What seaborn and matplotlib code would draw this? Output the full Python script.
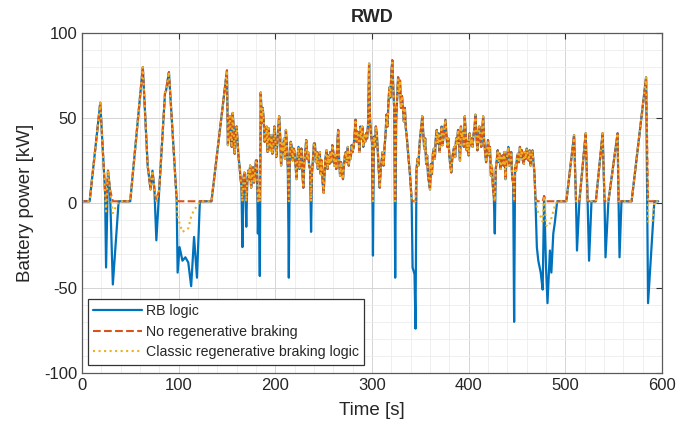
import numpy as np
import pandas as pd
import matplotlib
matplotlib.use("Agg")
import matplotlib.pyplot as plt
from matplotlib.ticker import MultipleLocator
import seaborn as sns

# power without regenerative braking (kW)
# first part of the cycle: knots of the ramps
start_time_s = [0, 8, 19, 24, 25, 27, 29, 32, 38, 50,
                63, 68, 71, 73, 75, 77, 80, 86, 87, 90,
                98, 99, 101, 104, 107, 110, 113, 116, 119, 122,
                134, 150]
start_kw = [1, 1, 59, 6, 1, 19, 8, 1, 1, 1,
            80, 22, 8, 19, 8, 1, 8, 65, 66, 77,
            2, 1, 1, 1, 1, 1, 1, 1, 1, 1,
            1, 78]

# middle part, one value per second from t=151 to t=468
cruise_time_s = list(range(151, 469))
cruise_kw = [
    34, 46, 51, 40, 33, 53, 44, 29, 38, 45,
    36, 27, 22, 15, 10, 1, 14, 18, 8, 1,
    12, 19, 14, 22, 9, 16, 21, 12, 17, 25,
    25, 1, 8, 1, 65, 47, 56, 49, 36, 38,
    45, 30, 44, 36, 31, 40, 29, 33, 45, 38,
    27, 34, 44, 51, 40, 22, 35, 30, 38, 26,
    43, 34, 20, 1, 28, 36, 33, 25, 32, 30,
    22, 14, 27, 33, 20, 25, 32, 18, 9, 24,
    30, 37, 26, 30, 22, 20, 1, 18, 26, 35,
    35, 24, 30, 20, 27, 30, 17, 25, 12, 6,
    18, 27, 31, 20, 28, 23, 30, 24, 34, 30,
    22, 28, 20, 33, 43, 25, 16, 24, 20, 14,
    22, 28, 30, 24, 33, 22, 28, 26, 34, 30,
    33, 40, 49, 36, 42, 39, 30, 45, 38, 45,
    33, 40, 36, 41, 38, 47, 82, 49, 40, 36,
    1, 39, 33, 45, 41, 30, 18, 9, 20, 25,
    30, 22, 33, 40, 52, 45, 59, 68, 62, 76,
    84, 68, 55, 1, 49, 62, 74, 65, 72, 56,
    63, 56, 48, 56, 44, 39, 32, 25, 19, 10,
    2, 1, 1, 1, 1, 19, 26, 22, 33, 40,
    45, 51, 42, 32, 38, 23, 28, 16, 12, 8,
    23, 17, 29, 32, 26, 38, 43, 35, 41, 30,
    38, 45, 34, 39, 44, 49, 40, 33, 38, 28,
    22, 18, 26, 30, 33, 27, 38, 35, 43, 36,
    25, 45, 38, 42, 33, 51, 40, 31, 36, 28,
    41, 34, 38, 33, 40, 44, 52, 40, 31, 38,
    45, 38, 33, 42, 51, 36, 30, 24, 30, 37,
    28, 33, 16, 22, 10, 4, 1, 20, 25, 31,
    24, 29, 20, 26, 28, 22, 30, 14, 25, 28,
    33, 22, 25, 30, 15, 12, 1, 22, 19, 27,
    29, 24, 33, 27, 31, 25, 23, 30, 26, 32,
    28, 25, 31, 22, 28, 31, 24, 18,
]

# last part of the cycle
end_time_s = [469, 470.5, 472, 474.5, 476.5, 478, 480, 481.5, 484, 485.5,
              487.5, 489, 491.5, 501, 509, 511, 512, 514.5, 521, 523,
              524.5, 527, 531.5, 538.5, 540.5, 541.5, 544.5, 554, 555, 556,
              558, 568.5, 583.5, 585.5, 590, 592, 596]
end_kw = [3, 1, 1, 1, 1, 4, 1, 1, 1, 1,
          1, 1, 1, 1, 40, 1, 1, 1, 41, 1,
          1, 1, 1, 41, 1, 1, 1, 41, 1, 1,
          1, 1, 74, 1, 1, 1, 1]

# braking phases: power with the RB logic and with the classic logic
brake_time_s = [25, 32, 77, 99, 101, 104, 107, 110, 113, 116, 119,
                166, 170, 182, 184, 214, 237, 301, 324, 342, 343, 344, 345, 427, 447,
                470.5, 472, 474.5, 476.5, 480, 481.5, 484, 485.5, 487.5, 489,
                512, 524.5, 541.5, 556, 585.5, 590]
rb_brake_kw = [-38, -48, -22, -41, -26, -34, -32, -35, -49, -20, -44,
               -26, -14, -18, -43, -44, -17, -31, -44, -38, -40, -42, -74, -18, -70,
               -26, -34, -41, -51, -38, -59, -28, -41, -18, -12,
               -28, -34, -32, -32, -59, -18]
classic_brake_kw = [-5, -6, 1, -8, -12, -17, -16, -15, -8, -4, -2,
                    1, 1, 1, 1, 1, 1, 1, 1, 1, 1, 1, 1, 1, 1,
                    -3, -6, -8, -11, -13, -14, -12, -9, -5, -2,
                    1, 1, 1, 1, -11, -11]

series_labels = ["RB logic", "No regenerative braking", "Classic regenerative braking logic"]

time_s = start_time_s + cruise_time_s + end_time_s
no_regen_kw = start_kw + cruise_kw + end_kw
rb_map = dict(zip(brake_time_s, rb_brake_kw))
classic_map = dict(zip(brake_time_s, classic_brake_kw))
rb_logic_kw = [rb_map.get(t, p) for t, p in zip(time_s, no_regen_kw)]
classic_kw = [classic_map.get(t, p) for t, p in zip(time_s, no_regen_kw)]

sns.set_style("white")
plt.rcParams["font.family"] = ["Liberation Sans", "DejaVu Sans"]
plt.rcParams["axes.unicode_minus"] = False

fig = plt.figure(figsize=(6.94, 4.30), dpi=100)
ax = fig.add_axes([0.118, 0.133, 0.836, 0.79])

sns.lineplot(x=time_s, y=rb_logic_kw, ax=ax, estimator=None, sort=False,
             color="#0072BD", linewidth=1.6, label=series_labels[0])
sns.lineplot(x=time_s, y=no_regen_kw, ax=ax, estimator=None, sort=False,
             color="#D95319", linewidth=1.5, linestyle="--", label=series_labels[1])
sns.lineplot(x=time_s, y=classic_kw, ax=ax, estimator=None, sort=False,
             color="#EDB120", linewidth=1.5, linestyle=":", label=series_labels[2])

ax.set_xlim(0, 600)
ax.set_ylim(-100, 100)
ax.xaxis.set_major_locator(MultipleLocator(100))
ax.xaxis.set_minor_locator(MultipleLocator(20))
ax.yaxis.set_major_locator(MultipleLocator(50))
ax.yaxis.set_minor_locator(MultipleLocator(10))
ax.grid(which="major", color="#d4d4d4", linewidth=0.7)
ax.grid(which="minor", color="#ececec", linewidth=0.6)
ax.set_axisbelow(True)
ax.tick_params(which="major", direction="in", length=4, top=True, right=True,
               labelsize=12, color="#333333", labelcolor="#262626")
ax.tick_params(which="minor", length=0)
for s in ax.spines.values():
    s.set_color("#5a5a5a")
    s.set_linewidth(0.9)

ax.set_xlabel("Time [s]", fontsize=13.5, color="#262626", labelpad=7)
ax.set_ylabel("Battery power [kW]", fontsize=13.5, color="#262626", labelpad=7)
ax.set_title("RWD", fontsize=13, fontweight="bold", pad=8)

leg = ax.legend(loc="lower left", bbox_to_anchor=(0.01, 0.024), borderaxespad=0,
                fontsize=10.2, frameon=True, fancybox=False, framealpha=1,
                edgecolor="#333333", handlelength=3.4, borderpad=0.4,
                labelspacing=0.45, handletextpad=0.3)
leg.get_frame().set_linewidth(0.9)

fig.savefig("out.png", dpi=100)
